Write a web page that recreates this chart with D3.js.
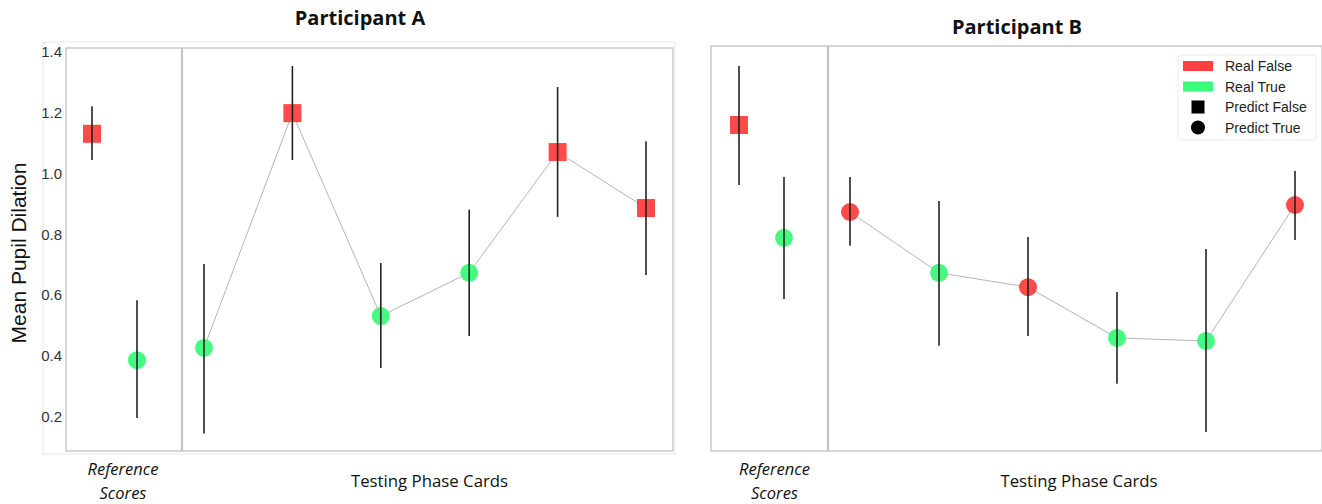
<!DOCTYPE html>
<html>
<head>
<meta charset="utf-8">
<script src="https://cdn.jsdelivr.net/npm/d3@7"></script>
<style>
  body { margin: 0; background: #fff; }
  svg { display: block; }
</style>
</head>
<body>
<svg id="chart" width="1322" height="504"></svg>
<script>
// reference scores (two per participant), then six testing phase cards
var refReal = ["False", "True"]
var refPred = ["False", "True"]

var refMeanA = [1.13, 0.386]
var refLoA = [1.044, 0.196]
var refHiA = [1.221, 0.583]
var testMeanA = [0.426, 1.198, 0.531, 0.673, 1.070, 0.886]
var testLoA = [0.145, 1.044, 0.360, 0.465, 0.857, 0.666]
var testHiA = [0.702, 1.353, 0.705, 0.880, 1.284, 1.106]
var testRealA = ["True", "False", "True", "True", "False", "False"]
var testPredA = ["True", "False", "True", "True", "False", "False"]

var refMeanB = [1.159, 0.788]
var refLoB = [0.962, 0.587]
var refHiB = [1.353, 0.988]
var testMeanB = [0.873, 0.673, 0.626, 0.459, 0.449, 0.896]
var testLoB = [0.762, 0.433, 0.465, 0.308, 0.150, 0.781]
var testHiB = [0.988, 0.909, 0.791, 0.610, 0.751, 1.008]
var testRealB = ["False", "True", "False", "True", "True", "False"]
var testPredB = ["True", "True", "True", "True", "True", "True"]

var yTicks = [0.2, 0.4, 0.6, 0.8, 1.0, 1.2, 1.4]
var legendLabels = ["Real False", "Real True", "Predict False", "Predict True"]

var RED = "#ff4040", GREEN = "#3cfa7a"
var colorOf = r => r == "False" ? RED : GREEN

var svg = d3.select("#chart")
var y = d3.scaleLinear().domain([0.2, 1.4]).range([416.7, 51.7])

function panel(p) {
  var g = svg.append("g")

  // faint outer frame and axes box
  if (p.outer) {
    g.append("rect").attr("x", p.outer[0]).attr("y", p.outer[1])
      .attr("width", p.outer[2] - p.outer[0]).attr("height", p.outer[3] - p.outer[1])
      .attr("fill", "none").attr("stroke", "#ebebeb").attr("stroke-width", 1.2)
  }
  g.append("rect").attr("x", p.x0).attr("y", p.top)
    .attr("width", p.x1 - p.x0).attr("height", p.bottom - p.top)
    .attr("fill", "none").attr("stroke", "#c6c6c6").attr("stroke-width", 1.4)
  g.append("line").attr("x1", p.div).attr("x2", p.div)
    .attr("y1", p.top).attr("y2", p.bottom)
    .attr("stroke", "#c4c4c4").attr("stroke-width", 2.2)

  var xr = d3.scaleLinear().domain([0, 1]).range([p.x0 + p.refPad[0], p.div - p.refPad[1]])
  var xt = d3.scaleLinear().domain([0, 5]).range([p.div + 22, p.x1 - 27])

  var pts = []
  p.refMean.forEach((m, i) => pts.push({x: xr(i), m: m, lo: p.refLo[i], hi: p.refHi[i], real: refReal[i], pred: refPred[i], test: false}))
  p.testMean.forEach((m, i) => pts.push({x: xt(i), m: m, lo: p.testLo[i], hi: p.testHi[i], real: p.testReal[i], pred: p.testPred[i], test: true}))

  var line = d3.line().x(d => d.x).y(d => y(d.m))
  g.append("path").datum(pts.filter(d => d.test)).attr("d", line)
    .attr("fill", "none").attr("stroke", "#b4b4b4").attr("stroke-width", 1)

  var mk = g.selectAll("g.pt").data(pts).enter().append("g").attr("class", "pt")
  mk.filter(d => d.pred == "False").append("rect")
    .attr("x", d => d.x - 9).attr("y", d => y(d.m) - 9)
    .attr("width", 18).attr("height", 18)
    .attr("fill", d => colorOf(d.real)).attr("fill-opacity", 0.95)
  mk.filter(d => d.pred == "True").append("circle")
    .attr("cx", d => d.x).attr("cy", d => y(d.m)).attr("r", 9)
    .attr("fill", d => colorOf(d.real)).attr("fill-opacity", 0.95)
  mk.append("line")
    .attr("x1", d => d.x).attr("x2", d => d.x)
    .attr("y1", d => y(d.lo)).attr("y2", d => y(d.hi))
    .attr("stroke", "#222").attr("stroke-width", 1.6)

  svg.append("text").attr("x", p.titleX).attr("y", p.titleY)
    .attr("text-anchor", "middle").attr("font-family", "Open Sans, sans-serif")
    .attr("font-weight", "bold").attr("font-size", 20).attr("fill", "#111")
    .text(p.title)

  var rx = (p.x0 + p.div) / 2 + p.refShift
  var rt = svg.append("text").attr("text-anchor", "middle")
    .attr("font-family", "Open Sans, sans-serif").attr("font-style", "italic")
    .attr("font-size", 16.5).attr("fill", "#111")
  rt.append("tspan").attr("x", rx).attr("y", 475).text("Reference")
  rt.append("tspan").attr("x", rx).attr("y", 499).text("Scores")
  svg.append("text").attr("x", (p.div + p.x1) / 2 + p.testShift).attr("y", 487)
    .attr("text-anchor", "middle").attr("font-family", "Open Sans, sans-serif")
    .attr("font-size", 16.8).attr("fill", "#111").text("Testing Phase Cards")
}

panel({x0: 66, x1: 673, top: 48, bottom: 451, div: 182, refPad: [26, 45], outer: [43, 42, 675, 454],
  refMean: refMeanA, refLo: refLoA, refHi: refHiA,
  testMean: testMeanA, testLo: testLoA, testHi: testHiA, testReal: testRealA, testPred: testPredA,
  title: "Participant A", titleX: 360, titleY: 25, refShift: -1, testShift: 2})

panel({x0: 711, x1: 1322, top: 46, bottom: 451, div: 828, refPad: [28, 44], outer: null,
  refMean: refMeanB, refLo: refLoB, refHi: refHiB,
  testMean: testMeanB, testLo: testLoB, testHi: testHiB, testReal: testRealB, testPred: testPredB,
  title: "Participant B", titleX: 1017, titleY: 34, refShift: 5, testShift: 4})

// y axis of panel A
var yAxis = d3.axisLeft(y).tickValues(yTicks).tickSize(0).tickPadding(0).tickFormat(d3.format(".1f"))
var ya = svg.append("g").attr("transform", "translate(62,0)").call(yAxis)
ya.select(".domain").remove()
ya.selectAll("text").attr("font-family", "Liberation Sans, Arial, sans-serif")
  .attr("font-size", 15).attr("fill", "#333")

svg.append("text").attr("transform", "translate(26,253) rotate(-90)")
  .attr("text-anchor", "middle").attr("font-family", "Liberation Sans, Arial, sans-serif")
  .attr("font-size", 21).attr("fill", "#111").text("Mean Pupil Dilation")

// legend
var lg = svg.append("g").attr("transform", "translate(1178,55)")
lg.append("rect").attr("width", 138).attr("height", 85).attr("rx", 3)
  .attr("fill", "#fff").attr("stroke", "#ececec")
var row = lg.selectAll("g.row").data(legendLabels).enter().append("g")
  .attr("class", "row").attr("transform", (d, i) => "translate(0," + (11 + i * 20.5) + ")")
row.filter((d, i) => i < 2).append("rect").attr("x", 5).attr("y", -5).attr("width", 30).attr("height", 10)
  .attr("fill", (d, i) => i == 0 ? RED : GREEN)
row.filter((d, i) => i == 2).append("rect").attr("x", 13.5).attr("y", -6.5).attr("width", 13).attr("height", 13).attr("fill", "#000")
row.filter((d, i) => i == 3).append("circle").attr("cx", 20).attr("cy", 0).attr("r", 7).attr("fill", "#000")
row.append("text").attr("x", 47).attr("y", 5).attr("font-family", "Liberation Sans, Arial, sans-serif")
  .attr("font-size", 14).attr("fill", "#222").text(d => d)
</script>
</body>
</html>
